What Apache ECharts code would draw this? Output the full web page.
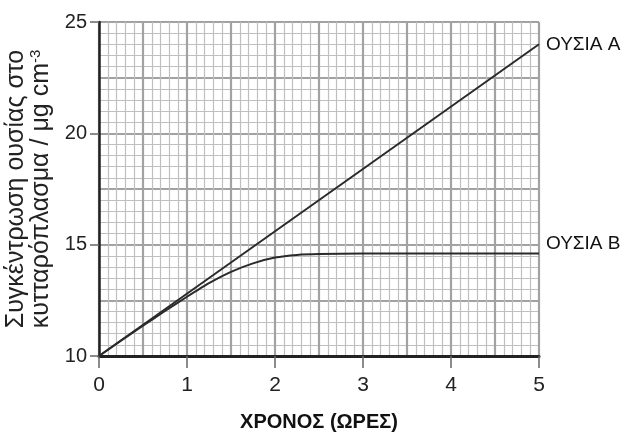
<!DOCTYPE html>
<html>
<head>
<meta charset="utf-8">
<script src="https://cdn.jsdelivr.net/npm/echarts@6/dist/echarts.min.js"></script>
<style>
body{
  margin: 0;
  padding: 0;
  background: #fff;
}
#main{
  width: 625px;
  height: 434px;
}
</style>
</head>
<body>
<div id="main"></div>
<script>
// time (hours) and concentration readings
const hoursA = [0, 5]
const substanceA = [10, 24]
const hoursB = [0, 0.25, 0.5, 0.75, 1, 1.25, 1.5, 1.75, 2, 2.25, 2.5, 3, 4, 5]
const substanceB = [10, 10.69, 11.36, 12.02, 12.66, 13.27, 13.78, 14.16, 14.42, 14.54, 14.58, 14.6, 14.6, 14.6]
const xTicks = [0, 1, 2, 3, 4, 5]
const yTicks = [10, 15, 20, 25]

const font = 'Liberation Sans, Arial, sans-serif'
const narrow = 'Liberation Sans Narrow, Arial Narrow, Liberation Sans, sans-serif'
const pair = (xs, ys) => xs.map((x, i) => [x, ys[i]])

let myChart = echarts.init(document.getElementById('main'))
const option = {
  animation: false,
  backgroundColor: '#fff',
  grid: { left: 99, right: 86, top: 22, bottom: 78, outerBoundsMode: 'none', containLabel: false },
  xAxis: [{
    type: 'value',
    min: xTicks[0],
    max: xTicks[xTicks.length - 1],
    interval: 1,
    z: 3,
    axisLine: { show: true, onZero: false, lineStyle: { color: '#222', width: 3 } },
    axisTick: { show: true, length: 12, lineStyle: { color: '#666', width: 1.5 } },
    axisLabel: { fontSize: 21, color: '#222', fontFamily: narrow, margin: 19 },
    splitLine: { show: false },
    name: 'ΧΡΟΝΟΣ (ΩΡΕΣ)',
    nameLocation: 'middle',
    nameGap: 56,
    nameTextStyle: { fontSize: 20, fontWeight: 'bold', color: '#111', fontFamily: narrow }
  }, {
    type: 'value',
    min: 0,
    max: 5,
    interval: 0.5,
    position: 'top',
    z: 1,
    axisLine: { show: false },
    axisTick: { show: false },
    axisLabel: { show: false },
    splitLine: { show: true, lineStyle: { color: '#a2a2a2', width: 2.2 } },
    minorTick: { show: false, splitNumber: 5 },
    minorSplitLine: { show: true, lineStyle: { color: '#bfbfbf', width: 1.2 } }
  }],
  yAxis: [{
    type: 'value',
    min: yTicks[0],
    max: yTicks[yTicks.length - 1],
    interval: 5,
    z: 3,
    axisLine: { show: true, onZero: false, lineStyle: { color: '#222', width: 2.5 } },
    axisTick: { show: true, length: 9, lineStyle: { color: '#666', width: 1.5 } },
    axisLabel: { fontSize: 20, color: '#222', fontFamily: font, margin: 12 },
    splitLine: { show: false },
    name: '{a|Συγκέντρωση ουσίας στο}\n{a|κυτταρόπλασμα / μg cm}{s|-3}',
    nameLocation: 'middle',
    nameGap: 41,
    nameTextStyle: {
      rich: {
        a: { fontSize: 25, color: '#222', fontFamily: font, lineHeight: 25 },
        s: { fontSize: 15, color: '#222', fontFamily: font, verticalAlign: 'top', lineHeight: 14 }
      }
    }
  }, {
    type: 'value',
    min: 10,
    max: 25,
    interval: 2.5,
    position: 'right',
    z: 1,
    axisLine: { show: false },
    axisTick: { show: false },
    axisLabel: { show: false },
    splitLine: { show: true, lineStyle: { color: '#a2a2a2', width: 2.2 } },
    minorTick: { show: false, splitNumber: 5 },
    minorSplitLine: { show: true, lineStyle: { color: '#bfbfbf', width: 1.2 } }
  }],
  series: [{
    name: 'ΟΥΣΙΑ Α',
    type: 'line',
    xAxisIndex: 0,
    yAxisIndex: 0,
    z: 5,
    data: pair(hoursA, substanceA),
    showSymbol: false,
    lineStyle: { color: '#2a2a2a', width: 2 },
    endLabel: { show: true, formatter: 'ΟΥΣΙΑ Α', fontSize: 19, color: '#111', fontFamily: font, distance: 7 }
  }, {
    name: 'ΟΥΣΙΑ Β',
    type: 'line',
    xAxisIndex: 0,
    yAxisIndex: 0,
    z: 5,
    data: pair(hoursB, substanceB),
    smooth: 0.2,
    showSymbol: false,
    lineStyle: { color: '#2a2a2a', width: 2 },
    endLabel: { show: true, formatter: 'ΟΥΣΙΑ Β', fontSize: 19, color: '#111', fontFamily: font, distance: 7, offset: [0, -10] }
  }]
}
myChart.setOption(option)
</script>
</body>
</html>
